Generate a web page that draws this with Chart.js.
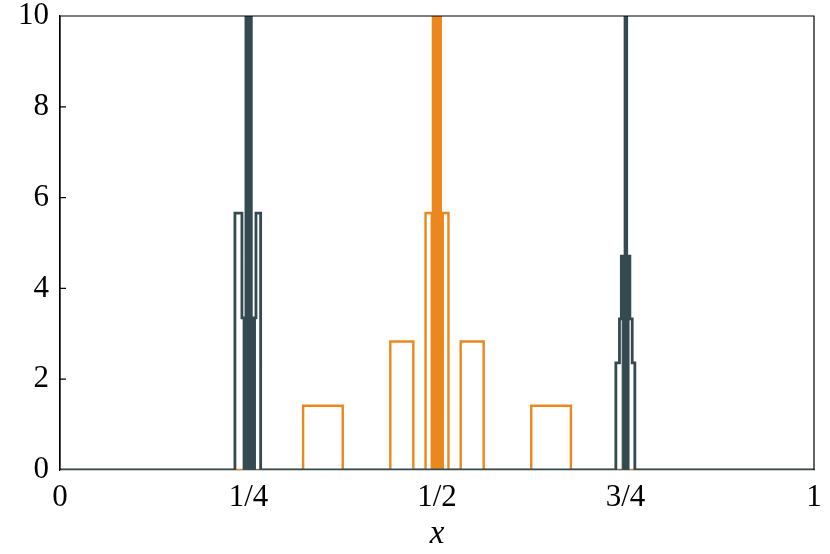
<!DOCTYPE html>
<html>
<head>
<meta charset="utf-8">
<script src="https://cdn.jsdelivr.net/npm/chart.js@4/dist/chart.umd.min.js"></script>
<style>
  html,body{margin:0;padding:0;background:#fff;}
  #wrap{width:830px;height:554px;}
</style>
</head>
<body>
<div id="wrap"><canvas id="c"></canvas></div>
<script>
// ── DATOS ─────────────────────────────────────
const xTicks      = [0, 0.25, 0.5, 0.75, 1];
const xTickLabels = ['0', '1/4', '1/2', '3/4', '1'];
const yTicks      = [0, 2, 4, 6, 8, 10];

// serie oscura (escalones: cada valor vale hasta el siguiente x)
const slateX = [0, 0.2320, 0.2413, 0.2466, 0.2537, 0.2599, 0.2661, 0.7372, 0.7420, 0.7445, 0.7494, 0.7516, 0.7558, 0.7589, 0.7624, 1];
const slateY = [0, 5.66,   3.35,   11.3,   3.35,   5.66,   0,      2.36,   3.33,   4.71,   11.3,   4.71,   3.33,   2.36,   0,      0];
// núcleo relleno de los picos oscuros
const slateCoreX = [0.2419, 0.2462, 0.2541, 0.2592, 0.7456, 0.7494, 0.7516, 0.7547];
const slateCoreY = [3.35,   11.3,   3.35,   0,      4.71,   11.3,   4.71,   0];

// serie naranja
const amberX = [0, 0.3224, 0.3750, 0.4381, 0.4686, 0.4848, 0.4946, 0.5049, 0.5152, 0.5314, 0.5619, 0.6250, 0.6776, 1];
const amberY = [0, 1.414,  0,      2.83,   0,      5.66,   11.3,   5.66,   0,      2.83,   0,      1.414,  0,      0];
const amberCoreX = [0.4912, 0.4942, 0.5053, 0.5086];
const amberCoreY = [5.66,   11.3,   5.66,   0];

const SLATE = '#344a50', AMBER = '#ec871d';
const FONT = 'Liberation Serif';

const pts = (xs, ys) => xs.map((x, i) => ({x, y: ys[i]}));

// ── MARCO ─────────────────────────────────────
const frame = {
  id: 'frame',
  afterDatasetsDraw(chart) {
    const {ctx, chartArea: a, scales: {y}} = chart;
    ctx.save();
    ctx.strokeStyle = '#000'; ctx.lineWidth = 1.2;
    ctx.beginPath();
    ctx.moveTo(a.left, a.bottom); ctx.lineTo(a.left, a.top);
    ctx.lineTo(a.right, a.top); ctx.lineTo(a.right, a.bottom);
    yTicks.slice(1, -1).forEach(v => {
      const py = y.getPixelForValue(v);
      ctx.moveTo(a.left, py); ctx.lineTo(a.left + 6, py);
    });
    ctx.stroke();
    ctx.restore();
  }
};

const line = (data, color, order, w) => ({
  data, order, borderColor: color, borderWidth: w, stepped: true,
  pointRadius: 0, fill: false, tension: 0,
});
const core = (data, color, order) => ({
  data, order, borderColor: color, backgroundColor: color, borderWidth: 1, stepped: true,
  pointRadius: 0, fill: 'origin', tension: 0,
});

new Chart(document.getElementById('c'), {
  type: 'line',
  data: {datasets: [
    line(pts(slateX, slateY), SLATE, 0, 2.8),
    core(pts(slateCoreX, slateCoreY), SLATE, 1),
    line(pts(amberX, amberY), AMBER, 2, 2.4),
    core(pts(amberCoreX, amberCoreY), AMBER, 3),
  ]},
  options: {
    responsive: true, maintainAspectRatio: false, animation: false,
    layout: {padding: {top: 16, right: 16, left: 0, bottom: 0}},
    plugins: {legend: {display: false}, tooltip: {enabled: false}},
    scales: {
      x: {
        type: 'linear', min: 0, max: 1,
        afterBuildTicks: s => { s.ticks = xTicks.map(v => ({value: v})); },
        afterFit: s => { s.height = 84; s.paddingLeft = 0; s.paddingRight = 0; },
        grid: {display: false, drawTicks: false},
        border: {display: true, color: SLATE, width: 1.2},
        ticks: {
          padding: 9, color: '#000', font: {family: FONT, size: 31},
          autoSkip: false, maxRotation: 0,
          callback: v => xTickLabels[xTicks.indexOf(v)],
        },
        title: {display: true, text: 'x', color: '#000', padding: {top: 0, bottom: 0},
                font: {family: FONT, size: 33, style: 'italic'}},
      },
      y: {
        min: 0, max: 10,
        afterBuildTicks: s => { s.ticks = yTicks.map(v => ({value: v})); },
        afterFit: s => { s.width = 60; s.paddingTop = 0; s.paddingBottom = 0; },
        grid: {display: false, drawTicks: false},
        border: {display: true, color: '#000', width: 1.2},
        ticks: {padding: 11, color: '#000', font: {family: FONT, size: 31}},
      },
    },
  },
  plugins: [frame],
});
</script>
</body>
</html>
